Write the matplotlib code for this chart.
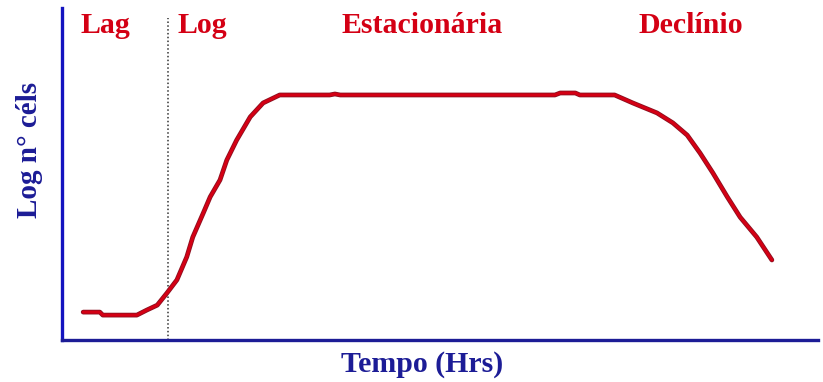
import matplotlib.pyplot as plt

# growth curve (time 0-100, log cells 0-100)
tempo = [2.8, 5.0, 5.4, 9.9, 11.2, 12.6, 13.9, 15.2, 16.5, 17.3, 18.7, 19.6,
         20.9, 21.8, 23.1, 24.9, 26.6, 28.8, 35.4, 36.1, 36.8, 65.2, 65.9,
         67.9, 68.5, 73.1, 75.5, 78.7, 80.8, 82.7, 84.4, 86.1, 88.0, 89.7,
         91.9, 93.9]
log_cels = [8.4, 8.4, 7.5, 7.5, 9.0, 10.5, 14.2, 18.1, 25.0, 31.0, 38.3, 43.1,
            48.2, 54.2, 60.2, 67.2, 71.4, 73.8, 73.8, 74.1, 73.8, 73.8, 74.4,
            74.4, 73.8, 73.8, 71.4, 68.4, 65.4, 61.7, 56.3, 50.3, 43.1, 37.0,
            31.0, 24.1]
fim_lag = 14.0
fases = ['Lag', 'Log', 'Estacionária', 'Declínio']
fases_x = [5.8, 18.6, 47.6, 83.2]

serif = ['Liberation Serif', 'DejaVu Serif']
red = '#d40014'
navy = '#1c1c96'

fig = plt.figure(figsize=(8.23, 3.82), dpi=100)
ax = fig.add_axes([62 / 823, 42 / 382, 756 / 823, 332 / 382])
ax.set_xlim(0, 100)
ax.set_ylim(0, 100)

ax.plot(tempo, log_cels, color='#8a1020', lw=3.4, solid_capstyle='round',
        solid_joinstyle='round', zorder=2)
ax.plot(tempo, log_cels, color=red, lw=2.2, solid_capstyle='round',
        solid_joinstyle='round', zorder=3)
ax.plot([fim_lag, fim_lag], [0, 97], color='#333333', lw=1.1, ls=(0, (1, 1.5)), zorder=1)

for nome, xf in zip(fases, fases_x):
    ax.text(xf, 92.5, nome, color=red, fontsize=21.5, fontweight='bold',
            family=serif, ha='center', va='baseline')

for s in ['top', 'right']:
    ax.spines[s].set_visible(False)
ax.spines['left'].set_color('#1414c0')
ax.spines['bottom'].set_color(navy)
ax.spines['left'].set_linewidth(2.4)
ax.spines['bottom'].set_linewidth(2.4)
ax.set_xticks([])
ax.set_yticks([])

fig.text(422 / 823, 1 - 372 / 382, 'Tempo (Hrs)', color=navy, fontsize=21.5,
         fontweight='bold', family=serif, ha='center', va='baseline')
fig.text(30 / 823, 1 - 150 / 382, 'Log n° céls', color=navy, fontsize=21,
         fontweight='bold', family=serif, ha='center', va='center', rotation=90)

fig.savefig('out.png', dpi=100)
